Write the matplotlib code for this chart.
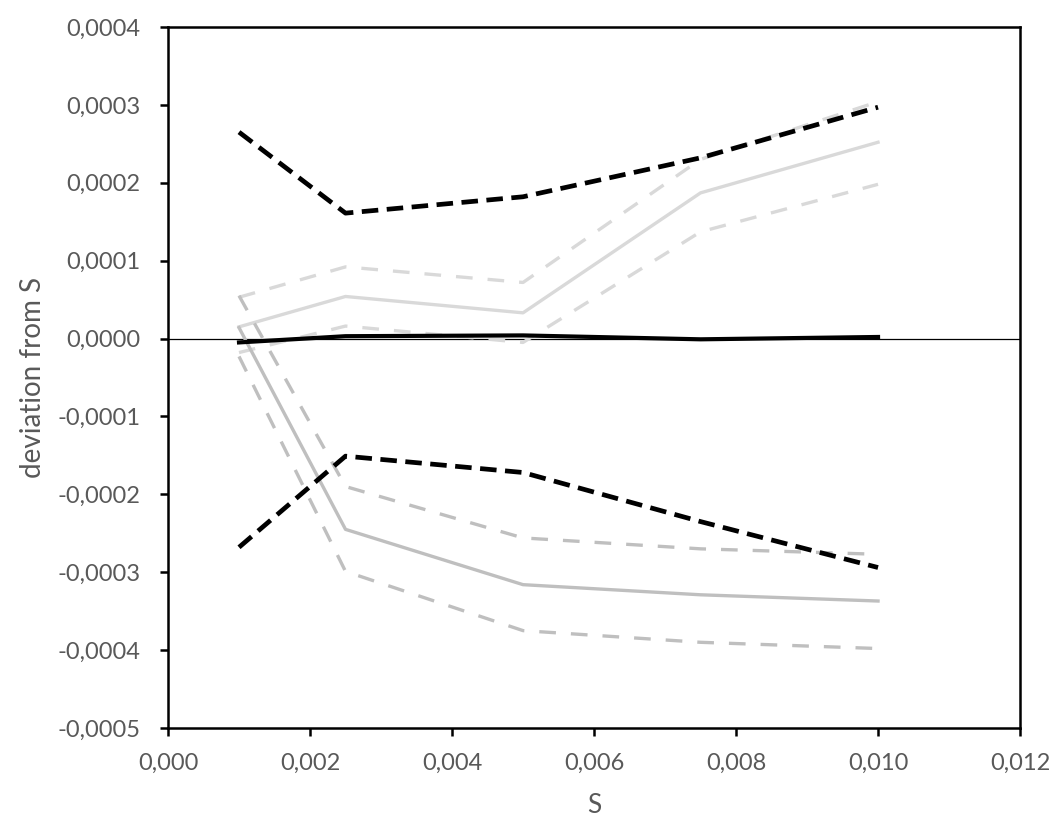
import matplotlib
matplotlib.use("Agg")
import matplotlib.pyplot as plt
from matplotlib.ticker import FuncFormatter, MultipleLocator

plt.rcParams['font.family'] = ['Lato', 'DejaVu Sans']

S = [0.001, 0.0025, 0.005, 0.0075, 0.010]

# upper group (light gray)
light_mid = [1.5e-5, 5.4e-5, 3.3e-5, 1.87e-4, 2.52e-4]
light_hi = [5.3e-5, 9.2e-5, 7.2e-5, 2.30e-4, 3.04e-4]
light_lo = [-1.8e-5, 1.6e-5, -5e-6, 1.37e-4, 1.98e-4]

# lower group (medium gray)
med_mid = [1.4e-5, -2.45e-4, -3.16e-4, -3.29e-4, -3.37e-4]
med_hi = [5.5e-5, -1.90e-4, -2.56e-4, -2.70e-4, -2.77e-4]
med_lo = [-2.3e-5, -2.99e-4, -3.75e-4, -3.90e-4, -3.98e-4]

# black
black_mid = [-5e-6, 3e-6, 4e-6, -1e-6, 2e-6]
black_hi = [2.65e-4, 1.61e-4, 1.82e-4, 2.32e-4, 2.97e-4]
black_lo = [-2.68e-4, -1.51e-4, -1.72e-4, -2.35e-4, -2.94e-4]

fig = plt.figure(figsize=(10.6, 8.25), dpi=100)
ax = fig.add_axes([0.1585, 0.1176, 0.8038, 0.8497])

LIGHT = '#d9d9d9'
MED = '#bfbfbf'
gdash = (0, (5, 4.5))
bdash = (0, (3.5, 1.8))

ax.axhline(0, color='black', lw=0.9, zorder=1)

ax.plot(S, light_hi, color=LIGHT, lw=2.4, linestyle=gdash, zorder=2)
ax.plot(S, light_lo, color=LIGHT, lw=2.4, linestyle=gdash, zorder=2)
ax.plot(S, light_mid, color=LIGHT, lw=2.4, zorder=2)

ax.plot(S, med_hi, color=MED, lw=2.4, linestyle=gdash, zorder=2)
ax.plot(S, med_lo, color=MED, lw=2.4, linestyle=gdash, zorder=2)
ax.plot(S, med_mid, color=MED, lw=2.4, zorder=2)

ax.plot(S, black_mid, color='black', lw=3.0, zorder=3)
ax.plot(S, black_hi, color='black', lw=3.4, linestyle=bdash, zorder=3)
ax.plot(S, black_lo, color='black', lw=3.4, linestyle=bdash, zorder=3)

ax.set_xlim(0, 0.012)
ax.set_ylim(-0.0005, 0.0004)
ax.xaxis.set_major_locator(MultipleLocator(0.002))
ax.yaxis.set_major_locator(MultipleLocator(0.0001))
ax.xaxis.set_major_formatter(FuncFormatter(lambda v, p: ('%.3f' % v).replace('.', ',')))
def yfmt(v, p):
    s = '%.4f' % v
    if s == '-0.0000':
        s = '0.0000'
    return s.replace('.', ',')
ax.yaxis.set_major_formatter(FuncFormatter(yfmt))

for sp in ax.spines.values():
    sp.set_linewidth(1.8)
    sp.set_color('black')

ax.tick_params(axis='both', direction='out', length=6, width=1.8, color='black',
               labelsize=17, labelcolor='#595959')
ax.tick_params(axis='x', pad=12)
ax.tick_params(axis='y', pad=14)

ax.set_xlabel('S', fontsize=19, color='#595959', labelpad=14)
ax.set_ylabel('deviation from S', fontsize=20, color='#595959', labelpad=8)

fig.savefig('out.png', dpi=100)
